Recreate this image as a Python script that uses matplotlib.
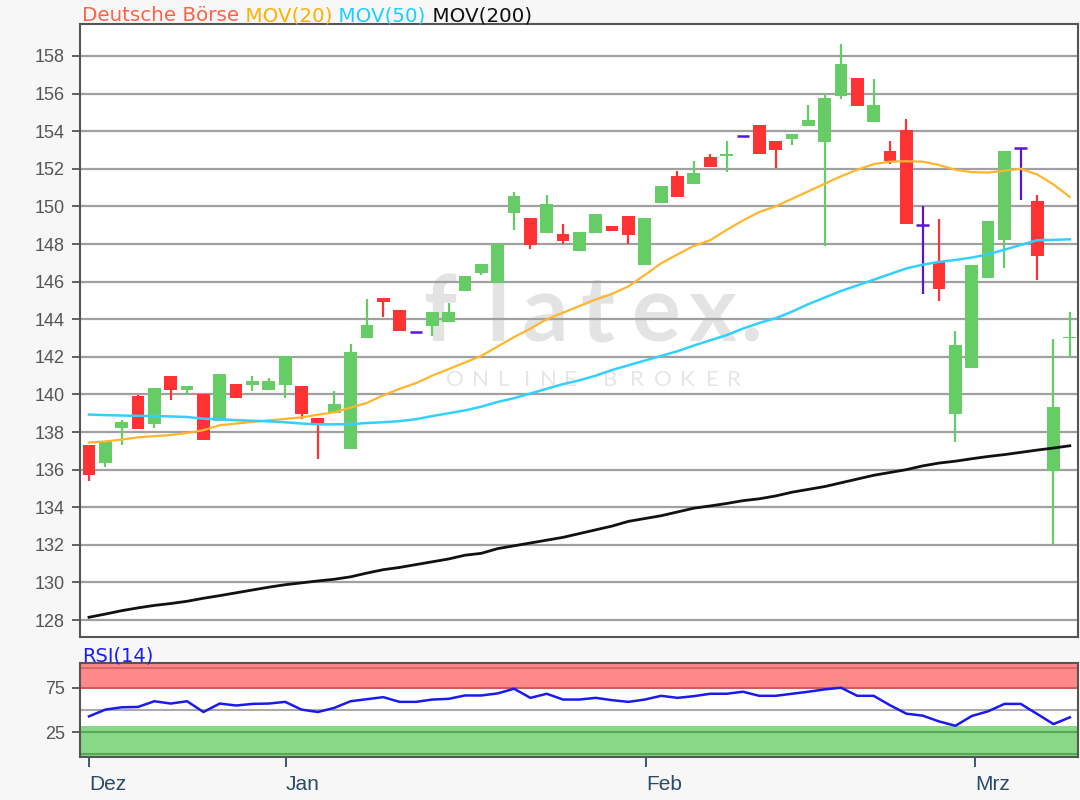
import matplotlib
matplotlib.use("Agg")
import matplotlib.pyplot as plt
import numpy as np

plt.rcParams['font.family'] = ['Liberation Sans', 'DejaVu Sans']

# ---------------- data ----------------
opens = [137.30, 136.33, 138.24, 139.91, 138.45, 140.97, 140.26, 140.00, 138.59, 140.55,
         140.48, 140.26, 140.48, 140.44, 138.77, 139.01, 137.09, 143.00, 145.15, 144.50,
         143.32, 143.62, 143.83, 145.52, 146.47, 145.94, 149.65, 149.38, 148.59, 148.55,
         147.62, 148.59, 148.96, 149.49, 146.88, 150.18, 151.62, 151.17, 152.64, 152.68,
         153.76, 154.31, 153.46, 153.61, 154.26, 153.41, 155.85, 156.85, 154.47, 152.94,
         154.08, 149.00, 147.02, 138.97, 141.41, 146.18, 148.21, 153.11, 150.29, 135.93,
         143.00]
highs = [137.30, 137.50, 138.66, 139.95, 140.35, 141.00, 140.45, 140.00, 141.09, 140.55,
         140.97, 140.86, 142.03, 140.44, 138.77, 140.16, 142.68, 145.06, 145.15, 144.50,
         143.32, 144.37, 144.85, 146.30, 146.93, 147.99, 150.76, 149.38, 150.58, 149.08,
         148.64, 149.61, 148.96, 149.49, 149.38, 151.08, 151.90, 152.41, 152.76, 153.46,
         153.76, 154.31, 153.46, 153.87, 155.37, 156.02, 158.64, 156.85, 156.76, 153.46,
         154.65, 150.02, 149.32, 143.35, 146.90, 149.23, 152.94, 153.11, 150.60, 142.94,
         144.41]
lows = [135.40, 136.12, 137.30, 138.15, 138.24, 139.72, 139.95, 137.60, 138.59, 139.82,
        140.16, 140.26, 139.82, 138.71, 136.55, 139.00, 137.09, 143.00, 144.11, 143.39,
        143.32, 143.09, 143.83, 145.52, 146.35, 145.94, 148.77, 147.71, 148.59, 147.99,
        147.62, 148.59, 148.68, 148.02, 146.88, 150.18, 150.50, 151.17, 152.11, 151.82,
        153.76, 152.76, 152.02, 153.29, 154.26, 147.91, 155.72, 155.32, 154.47, 152.23,
        149.05, 145.35, 144.95, 137.47, 141.41, 146.18, 146.71, 150.32, 146.11, 132.04,
        141.97]
closes = [135.70, 137.48, 138.54, 138.15, 140.33, 140.26, 140.44, 137.60, 141.09, 139.82,
          140.74, 140.74, 142.03, 138.98, 138.45, 139.47, 142.24, 143.67, 144.89, 143.39,
          143.32, 144.37, 144.41, 146.30, 146.93, 147.99, 150.53, 147.94, 150.14, 148.15,
          148.64, 149.61, 148.68, 148.47, 149.38, 151.08, 150.50, 151.79, 152.11, 152.72,
          153.76, 152.76, 152.99, 153.87, 154.61, 155.79, 157.58, 155.32, 155.37, 152.41,
          149.05, 149.00, 145.62, 142.61, 146.90, 149.23, 152.94, 153.11, 147.38, 139.32,
          143.05]

mov20 = [137.44, 137.50, 137.60, 137.72, 137.78, 137.84, 137.95, 138.10, 138.36, 138.45,
         138.54, 138.62, 138.70, 138.78, 138.92, 139.05, 139.30, 139.55, 139.95, 140.30,
         140.60, 141.00, 141.35, 141.70, 142.05, 142.55, 143.05, 143.50, 144.00, 144.35,
         144.70, 145.05, 145.35, 145.75, 146.35, 146.97, 147.45, 147.90, 148.20, 148.75,
         149.25, 149.70, 150.00, 150.40, 150.80, 151.20, 151.60, 151.95, 152.25, 152.38,
         152.40, 152.38, 152.20, 151.95, 151.82, 151.80, 151.90, 152.00, 151.70, 151.17,
         150.50]
mov50 = [138.93, 138.90, 138.88, 138.86, 138.85, 138.83, 138.80, 138.71, 138.68, 138.63,
         138.60, 138.57, 138.52, 138.45, 138.41, 138.41, 138.42, 138.48, 138.52, 138.58,
         138.68, 138.85, 139.00, 139.15, 139.35, 139.60, 139.80, 140.05, 140.30, 140.55,
         140.75, 141.00, 141.30, 141.55, 141.80, 142.05, 142.30, 142.60, 142.88, 143.15,
         143.50, 143.80, 144.05, 144.40, 144.80, 145.15, 145.50, 145.80, 146.10, 146.40,
         146.70, 146.90, 147.05, 147.15, 147.28, 147.45, 147.70, 147.95, 148.20, 148.22,
         148.25]
mov200 = [128.15, 128.32, 128.50, 128.65, 128.78, 128.88, 129.00, 129.16, 129.30, 129.45,
          129.60, 129.75, 129.88, 129.98, 130.08, 130.17, 130.30, 130.50, 130.68, 130.80,
          130.95, 131.10, 131.25, 131.45, 131.55, 131.80, 131.95, 132.10, 132.25, 132.40,
          132.60, 132.80, 133.00, 133.25, 133.40, 133.55, 133.75, 133.95, 134.07, 134.20,
          134.35, 134.45, 134.60, 134.80, 134.95, 135.10, 135.30, 135.50, 135.70, 135.85,
          136.00, 136.20, 136.35, 136.45, 136.58, 136.70, 136.80, 136.92, 137.04, 137.15,
          137.27]
rsi = [42.8, 50.4, 53.0, 53.4, 59.8, 57.2, 59.8, 47.7, 57.2, 55.0,
       56.8, 57.2, 59.1, 50.4, 47.7, 52.3, 59.8, 62.1, 64.4, 59.1,
       59.1, 61.7, 62.5, 66.3, 66.3, 68.6, 73.9, 63.6, 68.2, 61.7,
       61.7, 63.6, 61.0, 59.1, 61.7, 65.9, 63.6, 65.5, 68.2, 68.2,
       70.5, 65.9, 65.9, 68.2, 70.5, 73.1, 75.0, 65.9, 65.9, 55.3,
       45.8, 43.6, 37.1, 32.2, 43.2, 48.5, 56.8, 56.8, 45.5, 34.1,
       41.7]

month_labels = ["Dez", "Jan", "Feb", "Mrz"]
month_pos = [0, 12.05, 34.1, 54.2]
price_ticks = list(range(128, 159, 2))
rsi_ticks = [25, 75]

# ---------------- figure ----------------
W, H = 1080, 800
fig = plt.figure(figsize=(W / 100, H / 100), dpi=100, facecolor='#f7f7f7')

def frac_axes(x0, y0, x1, y1):
    return fig.add_axes([x0 / W, 1 - y1 / H, (x1 - x0) / W, (y1 - y0) / H])

ax = frac_axes(80, 24, 1078, 637)
axr = frac_axes(80, 663, 1078, 757)

n = len(opens)
x = np.arange(n)
GREEN = '#66cc66'
RED = '#ff3333'
PURPLE = '#5a14d8'
GRID = '#a0a0a0'
SPINE = '#555555'

ax.set_facecolor('white')
ax.set_xlim(-0.55, 60.5)
ax.set_ylim(127.1, 159.7)
for t in price_ticks:
    ax.axhline(t, color=GRID, lw=1.6, zorder=1)

# watermark (figure-pixel placement, drawn behind the grid)
wm_big = [("f", 440), ("l", 498), ("a", 545), ("t", 598), ("e", 656), ("x", 713), (".", 752)]
for ch, px in wm_big:
    ax.text(px / W, 1 - 341 / H, ch, transform=fig.transFigure, ha='center', va='baseline',
            fontsize=66, fontweight='bold', color='#e3e3e3',
            family=['Lato', 'DejaVu Sans'], zorder=0.5)
wm_small = [("O", 455), ("N", 480), ("L", 504), ("I", 527), ("N", 548), ("E", 570),
            ("B", 610), ("R", 637), ("O", 663), ("K", 687), ("E", 712), ("R", 734)]
for ch, px in wm_small:
    ax.text(px / W, 1 - 386 / H, ch, transform=fig.transFigure, ha='center', va='baseline',
            fontsize=16, color='#e6e6e6', family=['Lato', 'DejaVu Sans'], zorder=0.5)

bw = 0.78
for i in range(n):
    o, h, l, c = opens[i], highs[i], lows[i], closes[i]
    if c > o:
        col = GREEN
    elif c < o:
        col = RED
    else:
        col = PURPLE
    ax.vlines(x[i], l, h, color=col, lw=1.6, zorder=2)
    if col == PURPLE:
        ax.hlines(o, x[i] - bw / 2, x[i] + bw / 2, color=col, lw=1.8, zorder=3)
    else:
        bot = min(o, c)
        hgt = max(abs(c - o), 0.08)
        ax.bar(x[i], hgt, bottom=bot, width=bw, color=col, lw=0, zorder=3)

ax.plot(x, mov20, color='#ffb52e', lw=1.6, zorder=4)
ax.plot(x, mov50, color='#33d0ff', lw=1.8, zorder=4)
ax.plot(x, mov200, color='#111111', lw=2.0, zorder=4)

ax.set_yticks(price_ticks)
ax.set_yticklabels([str(t) for t in price_ticks])
ax.tick_params(axis='y', colors=SPINE, labelcolor='#555555', labelsize=13,
               length=6, width=1.3, direction='out', pad=5)
ax.set_xticks([])
for s in ax.spines.values():
    s.set_color(SPINE)
    s.set_linewidth(1.5)

# title pieces
fig.canvas.draw()
renderer = fig.canvas.get_renderer()
pieces = [("Deutsche Börse", '#ff6244'), (" MOV(20)", '#ffb000'),
          (" MOV(50)", '#1ccfff'), (" MOV(200)", '#111111')]
xpos = 82 / W
for txt, col in pieces:
    t = fig.text(xpos, 1 - 21 / H, txt, color=col, fontsize=14.3, ha='left', va='baseline',
                 family=['DejaVu Sans'])
    bb = t.get_window_extent(renderer=renderer)
    xpos = bb.x1 / W

fig.text(82 / W, 1 - 661 / H, "RSI(14)", color='#1a1aff', fontsize=14,
         ha='left', va='baseline', family=['DejaVu Sans'])

# ---------------- RSI panel ----------------
axr.set_facecolor('white')
axr.set_xlim(-0.55, 60.5)
axr.set_ylim(-2.9, 102.8)
axr.axhspan(73.5, 102.8, color='#ff8888', lw=0, zorder=1)
axr.axhspan(-2.9, 32.5, color='#88d888', lw=0, zorder=1)
axr.axhline(97, color='#d66a6a', lw=1.5, zorder=2)
axr.axhline(75, color='#cc5c5c', lw=1.5, zorder=2)
axr.axhline(50, color='#aaaaaa', lw=1.5, zorder=2)
axr.axhline(25, color='#55a855', lw=1.5, zorder=2)
axr.axhline(0.5, color='#55a855', lw=1.5, zorder=2)
axr.plot(x, rsi, color='#1a1aee', lw=1.8, zorder=3)
axr.set_yticks(rsi_ticks)
axr.set_yticklabels([str(t) for t in rsi_ticks])
axr.tick_params(axis='y', colors=SPINE, labelcolor='#555555', labelsize=13,
                length=6, width=1.3, pad=5)
axr.set_xticks(month_pos)
axr.set_xticklabels(month_labels, ha='left')
axr.tick_params(axis='x', colors='#2b4a6b', labelcolor='#2b4a6b', labelsize=15,
                length=7, width=1.3, pad=6)
for s in axr.spines.values():
    s.set_color(SPINE)
    s.set_linewidth(1.5)

fig.savefig("out.png", dpi=100, facecolor=fig.get_facecolor())
